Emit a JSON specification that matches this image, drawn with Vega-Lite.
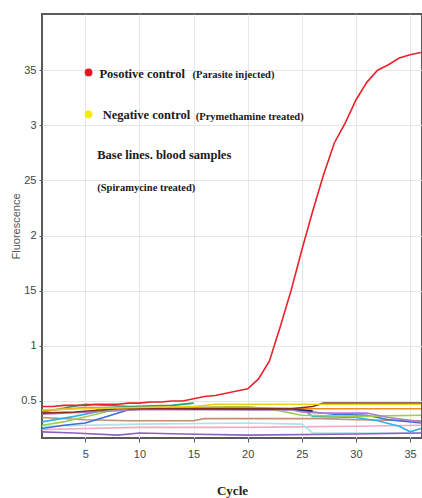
{
  "$schema": "https://vega.github.io/schema/vega-lite/v6.json",
  "autosize": {"type": "none"},
  "width": 380,
  "height": 424,
  "padding": {"left": 42, "top": 14, "right": 0, "bottom": 60},
  "background": "white",
  "config": {
    "view": {"stroke": "#5a5a5a", "strokeWidth": 2},
    "axis": {
      "grid": true, "gridColor": "#e6e6e6", "gridWidth": 1,
      "domain": false, "ticks": true, "tickColor": "#555", "tickSize": 4,
      "labelFont": "Liberation Sans", "labelFontSize": 11, "labelColor": "#444"
    }
  },
  "datasets": {
    "pos": [
      {"cycle": 1, "f": 0.45}, {"cycle": 2, "f": 0.45}, {"cycle": 3, "f": 0.46}, {"cycle": 4, "f": 0.46},
      {"cycle": 5, "f": 0.46}, {"cycle": 6, "f": 0.47}, {"cycle": 7, "f": 0.47}, {"cycle": 8, "f": 0.47},
      {"cycle": 9, "f": 0.48}, {"cycle": 10, "f": 0.48}, {"cycle": 11, "f": 0.49}, {"cycle": 12, "f": 0.49},
      {"cycle": 13, "f": 0.50}, {"cycle": 14, "f": 0.50}, {"cycle": 15, "f": 0.52}, {"cycle": 16, "f": 0.54},
      {"cycle": 17, "f": 0.55}, {"cycle": 18, "f": 0.57}, {"cycle": 19, "f": 0.59}, {"cycle": 20, "f": 0.61},
      {"cycle": 21, "f": 0.70}, {"cycle": 22, "f": 0.86}, {"cycle": 23, "f": 1.17}, {"cycle": 24, "f": 1.50},
      {"cycle": 25, "f": 1.87}, {"cycle": 26, "f": 2.22}, {"cycle": 27, "f": 2.55}, {"cycle": 28, "f": 2.84},
      {"cycle": 29, "f": 3.02}, {"cycle": 30, "f": 3.23}, {"cycle": 31, "f": 3.39}, {"cycle": 32, "f": 3.50},
      {"cycle": 33, "f": 3.55}, {"cycle": 34, "f": 3.61}, {"cycle": 35, "f": 3.64}, {"cycle": 36, "f": 3.66}
    ],
    "base": [
      {"s": "pink", "cycle": 1, "f": 0.24}, {"s": "pink", "cycle": 5, "f": 0.25}, {"s": "pink", "cycle": 10, "f": 0.26}, {"s": "pink", "cycle": 20, "f": 0.26}, {"s": "pink", "cycle": 30, "f": 0.27}, {"s": "pink", "cycle": 36, "f": 0.28},
      {"s": "lightcyan", "cycle": 1, "f": 0.27}, {"s": "lightcyan", "cycle": 10, "f": 0.29}, {"s": "lightcyan", "cycle": 20, "f": 0.30}, {"s": "lightcyan", "cycle": 25, "f": 0.29}, {"s": "lightcyan", "cycle": 26, "f": 0.21}, {"s": "lightcyan", "cycle": 30, "f": 0.21}, {"s": "lightcyan", "cycle": 36, "f": 0.21},
      {"s": "purple", "cycle": 1, "f": 0.22}, {"s": "purple", "cycle": 4, "f": 0.21}, {"s": "purple", "cycle": 8, "f": 0.19}, {"s": "purple", "cycle": 10, "f": 0.21}, {"s": "purple", "cycle": 14, "f": 0.20}, {"s": "purple", "cycle": 20, "f": 0.19}, {"s": "purple", "cycle": 30, "f": 0.20}, {"s": "purple", "cycle": 36, "f": 0.21},
      {"s": "tan", "cycle": 1, "f": 0.35}, {"s": "tan", "cycle": 5, "f": 0.33}, {"s": "tan", "cycle": 9, "f": 0.32}, {"s": "tan", "cycle": 15, "f": 0.32}, {"s": "tan", "cycle": 16, "f": 0.34}, {"s": "tan", "cycle": 23, "f": 0.34}, {"s": "tan", "cycle": 27, "f": 0.34}, {"s": "tan", "cycle": 30, "f": 0.33}, {"s": "tan", "cycle": 36, "f": 0.32},
      {"s": "blue", "cycle": 1, "f": 0.25}, {"s": "blue", "cycle": 3, "f": 0.28}, {"s": "blue", "cycle": 5, "f": 0.30}, {"s": "blue", "cycle": 7, "f": 0.36}, {"s": "blue", "cycle": 9, "f": 0.42}, {"s": "blue", "cycle": 12, "f": 0.43}, {"s": "blue", "cycle": 20, "f": 0.42}, {"s": "blue", "cycle": 24, "f": 0.42}, {"s": "blue", "cycle": 26, "f": 0.40}, {"s": "blue", "cycle": 28, "f": 0.38}, {"s": "blue", "cycle": 31, "f": 0.37}, {"s": "blue", "cycle": 33, "f": 0.33}, {"s": "blue", "cycle": 36, "f": 0.30},
      {"s": "cyan", "cycle": 1, "f": 0.31}, {"s": "cyan", "cycle": 4, "f": 0.36}, {"s": "cyan", "cycle": 8, "f": 0.44}, {"s": "cyan", "cycle": 12, "f": 0.44}, {"s": "cyan", "cycle": 20, "f": 0.43}, {"s": "cyan", "cycle": 25, "f": 0.43}, {"s": "cyan", "cycle": 26, "f": 0.36}, {"s": "cyan", "cycle": 30, "f": 0.35}, {"s": "cyan", "cycle": 32, "f": 0.32}, {"s": "cyan", "cycle": 34, "f": 0.27}, {"s": "cyan", "cycle": 35, "f": 0.22}, {"s": "cyan", "cycle": 36, "f": 0.25},
      {"s": "green", "cycle": 1, "f": 0.28}, {"s": "green", "cycle": 3, "f": 0.31}, {"s": "green", "cycle": 6, "f": 0.38}, {"s": "green", "cycle": 8, "f": 0.43}, {"s": "green", "cycle": 14, "f": 0.44}, {"s": "green", "cycle": 20, "f": 0.45}, {"s": "green", "cycle": 23, "f": 0.41}, {"s": "green", "cycle": 25, "f": 0.37}, {"s": "green", "cycle": 30, "f": 0.36}, {"s": "green", "cycle": 36, "f": 0.37},
      {"s": "violet", "cycle": 1, "f": 0.38}, {"s": "violet", "cycle": 10, "f": 0.42}, {"s": "violet", "cycle": 20, "f": 0.42}, {"s": "violet", "cycle": 24, "f": 0.42}, {"s": "violet", "cycle": 25, "f": 0.40}, {"s": "violet", "cycle": 27, "f": 0.39}, {"s": "violet", "cycle": 31, "f": 0.39}, {"s": "violet", "cycle": 33, "f": 0.35}, {"s": "violet", "cycle": 36, "f": 0.31},
      {"s": "navy", "cycle": 6, "f": 0.43}, {"s": "navy", "cycle": 10, "f": 0.44}, {"s": "navy", "cycle": 15, "f": 0.43}, {"s": "navy", "cycle": 20, "f": 0.43}, {"s": "navy", "cycle": 24, "f": 0.43}, {"s": "navy", "cycle": 26, "f": 0.41},
      {"s": "teal", "cycle": 1, "f": 0.40}, {"s": "teal", "cycle": 5, "f": 0.47}, {"s": "teal", "cycle": 7, "f": 0.46}, {"s": "teal", "cycle": 9, "f": 0.45}, {"s": "teal", "cycle": 13, "f": 0.46}, {"s": "teal", "cycle": 15, "f": 0.48},
      {"s": "orange", "cycle": 1, "f": 0.41}, {"s": "orange", "cycle": 5, "f": 0.44}, {"s": "orange", "cycle": 10, "f": 0.44}, {"s": "orange", "cycle": 20, "f": 0.44}, {"s": "orange", "cycle": 26, "f": 0.43}, {"s": "orange", "cycle": 36, "f": 0.43},
      {"s": "maroon", "cycle": 1, "f": 0.39}, {"s": "maroon", "cycle": 4, "f": 0.40}, {"s": "maroon", "cycle": 8, "f": 0.43}, {"s": "maroon", "cycle": 14, "f": 0.43}, {"s": "maroon", "cycle": 20, "f": 0.43}, {"s": "maroon", "cycle": 24, "f": 0.43}, {"s": "maroon", "cycle": 26, "f": 0.45}, {"s": "maroon", "cycle": 27, "f": 0.48}, {"s": "maroon", "cycle": 36, "f": 0.48},
      {"s": "yellow", "cycle": 1, "f": 0.42}, {"s": "yellow", "cycle": 5, "f": 0.43}, {"s": "yellow", "cycle": 10, "f": 0.44}, {"s": "yellow", "cycle": 15, "f": 0.45}, {"s": "yellow", "cycle": 17, "f": 0.47}, {"s": "yellow", "cycle": 25, "f": 0.47}, {"s": "yellow", "cycle": 36, "f": 0.47}
    ],
    "dotpos": [{"cycle": 5.3, "f": 3.48}],
    "dotneg": [{"cycle": 5.3, "f": 3.10}],
    "bigtext": [
      {"cycle": 6.3, "f": 3.47, "t": "Posotive control"},
      {"cycle": 6.6, "f": 3.09, "t": "Negative control"},
      {"cycle": 6.1, "f": 2.73, "t": "Base lines. blood samples"}
    ],
    "smalltext": [
      {"cycle": 14.9, "f": 3.46, "t": "(Parasite injected)"},
      {"cycle": 15.2, "f": 3.08, "t": "(Prymethamine treated)"},
      {"cycle": 6.1, "f": 2.43, "t": "(Spiramycine treated)"}
    ]
  },
  "layer": [
    {
      "data": {"name": "base"},
      "mark": {"type": "line", "strokeWidth": 1.6, "clip": true},
      "encoding": {
        "x": {
          "field": "cycle", "type": "quantitative",
          "scale": {"domain": [1, 36.1], "nice": false, "zero": false},
          "axis": {
            "values": [5, 10, 15, 20, 25, 30, 35], "title": "Cycle",
            "titleFont": "Liberation Serif", "titleFontSize": 13, "titleFontWeight": "bold", "titleColor": "#222",
            "titleX": 190, "titleY": 52, "titleBaseline": "middle", "labelPadding": 6
          }
        },
        "y": {
          "field": "f", "type": "quantitative",
          "scale": {"domain": [0.164, 4.01], "nice": false, "zero": false},
          "axis": {
            "values": [0.5, 1, 1.5, 2, 2.5, 3, 3.5],
            "labelExpr": "datum.value == 0.5 ? '0.5' : replace(format(datum.value, '~g'), '.', '')",
            "title": "Fluorescence", "titleFont": "Liberation Sans", "titleFontSize": 11, "titleFontWeight": "normal", "titleColor": "#555",
            "titleX": -26, "titleY": 212, "titleBaseline": "middle", "titleAngle": -90,
            "tickSize": 3, "labelPadding": 3
          }
        },
        "color": {
          "field": "s", "type": "nominal", "legend": null,
          "scale": {
            "domain": ["pink", "lightcyan", "purple", "tan", "blue", "cyan", "green", "violet", "navy", "teal", "orange", "maroon", "yellow"],
            "range": ["#f6a8c4", "#a8e4ea", "#8e5fc4", "#c98d6c", "#3c6fd6", "#27b4e6", "#9ccf4e", "#b07ad0", "#1f2a5c", "#1d9c88", "#ef8c1e", "#8a2e1a", "#e6d21a"]
          }
        }
      }
    },
    {
      "data": {"name": "pos"},
      "mark": {"type": "line", "color": "#e8232b", "strokeWidth": 1.6, "clip": true},
      "encoding": {
        "x": {"field": "cycle", "type": "quantitative"},
        "y": {"field": "f", "type": "quantitative"}
      }
    },
    {
      "data": {"name": "dotpos"},
      "mark": {"type": "point", "filled": true, "size": 60, "opacity": 1, "color": "#e8141e"},
      "encoding": {
        "x": {"field": "cycle", "type": "quantitative"},
        "y": {"field": "f", "type": "quantitative"}
      }
    },
    {
      "data": {"name": "dotneg"},
      "mark": {"type": "point", "filled": true, "size": 60, "opacity": 1, "color": "#f5ea10"},
      "encoding": {
        "x": {"field": "cycle", "type": "quantitative"},
        "y": {"field": "f", "type": "quantitative"}
      }
    },
    {
      "data": {"name": "bigtext"},
      "mark": {"type": "text", "align": "left", "baseline": "middle", "font": "Liberation Serif", "fontWeight": "bold", "fontSize": 12.5, "color": "#1a1a1a"},
      "encoding": {
        "x": {"field": "cycle", "type": "quantitative"},
        "y": {"field": "f", "type": "quantitative"},
        "text": {"field": "t"}
      }
    },
    {
      "data": {"name": "smalltext"},
      "mark": {"type": "text", "align": "left", "baseline": "middle", "font": "Liberation Serif", "fontWeight": "bold", "fontSize": 10.5, "color": "#1a1a1a"},
      "encoding": {
        "x": {"field": "cycle", "type": "quantitative"},
        "y": {"field": "f", "type": "quantitative"},
        "text": {"field": "t"}
      }
    }
  ]
}
